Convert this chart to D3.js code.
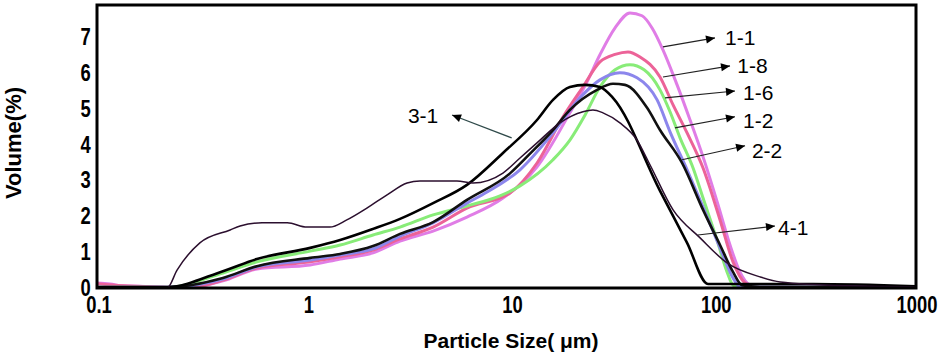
<!DOCTYPE html>
<html>
<head>
<meta charset="utf-8">
<script src="https://cdn.jsdelivr.net/npm/d3@7"></script>
<style>
  body { margin: 0; background: #fff; }
  svg { display: block; }
</style>
</head>
<body>
<div id="chart"></div>
<script>
// particle size (um) , volume (%)
let s1_1 = [[0.1,0.14],[0.116,0.11],[0.134,0.06],[0.21,0.03],[0.275,0],[0.412,0.2],[0.604,0.53],[1.1,0.64],[1.54,0.81],[2.23,0.98],[3.02,1.31],[4.38,1.59],[6.41,1.98],[9.61,2.51],[14.1,3.38],[20.4,4.89],[24.7,5.75],[28.6,6.51],[33.9,7.26],[40.1,7.68],[45.9,7.6],[51.4,7.26],[58.1,6.65],[68.1,5.67],[78.8,4.69],[91.2,3.66],[108,2.32],[123.5,1.2],[138,0.45],[155,0.08],[173,0.03],[1000,0.02]];
let s1_8 = [[0.1,0.12],[0.134,0.06],[0.21,0.02],[0.275,0],[0.412,0.22],[0.604,0.56],[1.1,0.73],[1.54,0.87],[2.23,1.06],[3.02,1.37],[4.38,1.7],[6.41,2.23],[10.4,2.65],[14.1,3.49],[18.9,4.78],[23.6,5.61],[28.6,6.31],[33.9,6.52],[39.2,6.59],[44.9,6.45],[56.2,5.89],[65.1,5.11],[76.2,4.33],[91.2,3.35],[110.4,1.9],[127.7,0.73],[146.3,0.14],[163.6,0.03],[1000,0.03]];
let s1_6 = [[0.1,0.02],[0.22,0.02],[0.412,0.42],[0.604,0.73],[1.1,1.03],[1.54,1.2],[2.23,1.48],[3.02,1.7],[4.38,2.04],[6.41,2.29],[9.29,2.57],[11.64,2.85],[16.87,3.58],[20.4,4.13],[24.2,4.83],[28.6,5.61],[33.9,6.09],[40.1,6.23],[47,6.09],[56.2,5.53],[62.9,4.92],[70.4,4.19],[81.5,3.35],[91.2,2.51],[106.7,1.34],[119.4,0.45],[127.7,0.08],[138.2,0.03],[1000,0.03]];
let s1_2 = [[0.1,0.02],[0.22,0.02],[0.412,0.25],[0.604,0.59],[1.1,0.78],[1.54,0.92],[2.23,1.09],[3.02,1.45],[4.38,1.82],[6.41,2.37],[8.04,2.68],[11.64,3.3],[16.87,4.33],[22.86,5.31],[28.6,5.81],[35.8,6.01],[43.4,5.87],[54.4,5.25],[62.9,4.36],[76.2,3.3],[91.2,2.26],[110.4,1.12],[127.7,0.28],[138.2,0.03],[1000,0.03]];
let s2_2 = [[0.1,0.02],[0.22,0.02],[0.412,0.28],[0.604,0.61],[1.1,0.84],[1.54,0.95],[2.23,1.17],[3.02,1.51],[4.38,1.84],[6.41,2.46],[10.4,3.2],[13.03,3.75],[16.87,4.41],[20.4,4.97],[27.7,5.53],[33.1,5.7],[37.9,5.67],[48.6,5.03],[56.2,4.41],[72,3.49],[91.2,2.18],[110.4,1.2],[127.7,0.45],[141.4,0.08],[173,0.03],[1000,0.03]];
let s3_1 = [[0.1,0.03],[0.22,0.03],[0.412,0.47],[0.604,0.81],[1.1,1.12],[1.54,1.34],[2.23,1.65],[3.02,1.93],[4.38,2.37],[6.41,2.88],[9.61,3.77],[14.09,4.69],[16.87,5.25],[20.4,5.61],[24.2,5.67],[28.6,5.61],[33.1,5.31],[56.2,2.71],[76.2,1.26],[96.4,0.11],[314,0.11],[1000,0.05]];
let s4_1 = [[0.1,0],[0.22,0],[0.246,0.5],[0.318,1.26],[0.447,1.62],[0.5,1.73],[0.64,1.82],[0.85,1.82],[1.06,1.7],[1.37,1.7],[1.66,1.9],[2.08,2.23],[2.61,2.6],[3.27,2.93],[3.78,2.99],[5.73,2.99],[6.86,2.93],[9.61,3.21],[11.64,3.63],[14.09,4.05],[18.24,4.61],[23.64,4.92],[26.44,4.97],[29.6,4.89],[35.8,4.61],[43.4,4.13],[50.2,3.44],[65.1,2.18],[88.2,1.4],[119.4,0.7],[173,0.31],[217,0.17],[476,0.06],[1000,0.03]];

let xTicks = [0.1, 1, 10, 100, 1000];
let yTicks = [0, 1, 2, 3, 4, 5, 6, 7];

// label, arrow start, arrow tip, text anchor (data units)
let notes = [
  {label:"1-1", from:[58.1,6.73], to:[104.3,6.98], at:[116.8,7.0]},
  {label:"1-8", from:[58.1,5.89], to:[123.5,6.2], at:[134,6.2]},
  {label:"1-6", from:[59.5,5.31], to:[130.6,5.5], at:[143,5.45]},
  {label:"1-2", from:[66.5,4.47], to:[130.6,4.78], at:[143,4.69]},
  {label:"2-2", from:[72,3.58], to:[146.3,3.97], at:[158,3.83]},
  {label:"4-1", from:[86,1.48], to:[204.8,1.73], at:[212,1.68]},
  {label:"3-1", from:[10.6,4.19], to:[5.42,4.83], at:[3.3,4.83]}
];

let width = 946;
let height = 354;
let padLeft = 97, padRight = 916, padTop = 5, padBottom = 288;

let series = [
  {data: s1_1, color: "#e07de6", w: 3},
  {data: s1_8, color: "#ec6398", w: 3},
  {data: s1_6, color: "#88ec78", w: 3},
  {data: s1_2, color: "#8c86ec", w: 3},
  {data: s2_2, color: "#111111", w: 2.6},
  {data: s3_1, color: "#000000", w: 2.6},
  {data: s4_1, color: "#2b0f2e", w: 1.5}
];

let x = d3.scaleLog().domain([0.1, 1000]).range([padLeft, padRight]);
let y = d3.scaleLinear().domain([0, 7.9]).range([padBottom, padTop]);

let chart = d3.select("#chart")
  .append("svg")
  .attr("width", width)
  .attr("height", height);

chart.append("rect").attr("width", width).attr("height", height).attr("fill", "#fff");

let defs = chart.append("defs");
defs.append("clipPath").attr("id", "plot")
  .append("rect")
  .attr("x", padLeft).attr("y", padTop)
  .attr("width", padRight - padLeft).attr("height", padBottom - padTop);
defs.append("marker")
  .attr("id", "head")
  .attr("viewBox", "0 -5 10 10")
  .attr("refX", 10).attr("refY", 0)
  .attr("markerUnits", "userSpaceOnUse")
  .attr("markerWidth", 11).attr("markerHeight", 9)
  .attr("orient", "auto")
  .append("path")
  .attr("d", "M0,-4.5L10,0L0,4.5Z")
  .attr("fill", "#000");

let line = d3.line()
  .x(function(d){ return x(d[0]); })
  .y(function(d){ return y(d[1]); })
  .curve(d3.curveMonotoneX);

chart.append("g").attr("clip-path", "url(#plot)")
  .selectAll("path")
  .data(series)
  .enter()
  .append("path")
  .attr("d", function(d){ return line(d.data); })
  .attr("fill", "none")
  .attr("stroke", function(d){ return d.color; })
  .attr("stroke-width", function(d){ return d.w; })
  .attr("stroke-linejoin", "round");

// frame
chart.append("rect")
  .attr("x", padLeft).attr("y", padTop)
  .attr("width", padRight - padLeft).attr("height", padBottom - padTop)
  .attr("fill", "none")
  .attr("stroke", "#000")
  .attr("stroke-width", 3);

let tickFont = "'Liberation Sans', Arial, sans-serif";

// tick labels are a condensed bold face in the picture, so squeeze them a bit
let yAxis = chart.append("g")
  .attr("transform", "translate(" + padLeft + ",0)")
  .call(d3.axisLeft(y).tickValues(yTicks).tickSize(0).tickPadding(8));
yAxis.select(".domain").remove();
yAxis.selectAll("text")
  .attr("font-family", tickFont)
  .attr("font-weight", "bold")
  .attr("font-size", 23)
  .attr("transform", "scale(0.8,1)")
  .attr("fill", "#000");

let xShift = {0.1: 2, 1: 7, 10: 6, 100: 5, 1000: 1};
let xAxis = chart.append("g")
  .attr("transform", "translate(0," + padBottom + ")")
  .call(d3.axisBottom(x).tickValues(xTicks).tickSize(0).tickPadding(9).tickFormat(function(d){ return String(d); }));
xAxis.select(".domain").remove();
xAxis.selectAll(".tick")
  .attr("transform", function(d){ return "translate(" + (x(d) + xShift[d]) + ",0)"; });
xAxis.selectAll("text")
  .attr("font-family", tickFont)
  .attr("font-weight", "bold")
  .attr("font-size", 23)
  .attr("transform", "scale(0.8,1)")
  .attr("fill", "#000");

chart.append("text")
  .text("Particle Size( μm)")
  .attr("x", 511).attr("y", 348)
  .attr("text-anchor", "middle")
  .attr("font-family", "'Liberation Sans', Arial, sans-serif")
  .attr("font-weight", "bold")
  .attr("font-size", 21);

chart.append("text")
  .text("Volume(%)")
  .attr("transform", "translate(21,143) rotate(-90)")
  .attr("text-anchor", "middle")
  .attr("font-family", "'Liberation Sans', Arial, sans-serif")
  .attr("font-weight", "bold")
  .attr("font-size", 22);

// labels with arrows
let ann = chart.append("g");
ann.selectAll("line")
  .data(notes)
  .enter()
  .append("line")
  .attr("x1", function(d){ return x(d.from[0]); })
  .attr("y1", function(d){ return y(d.from[1]); })
  .attr("x2", function(d){ return x(d.to[0]); })
  .attr("y2", function(d){ return y(d.to[1]); })
  .attr("stroke", function(d){ return d.label === "3-1" ? "#2f4a4a" : "#222"; })
  .attr("stroke-width", 1.2)
  .attr("marker-end", "url(#head)");
ann.selectAll("text")
  .data(notes)
  .enter()
  .append("text")
  .text(function(d){ return d.label; })
  .attr("x", function(d){ return x(d.at[0]); })
  .attr("y", function(d){ return y(d.at[1]); })
  .attr("dy", "0.36em")
  .attr("font-family", "'Liberation Sans', Arial, sans-serif")
  .attr("font-size", 21)
  .attr("fill", "#000");
</script>
</body>
</html>
